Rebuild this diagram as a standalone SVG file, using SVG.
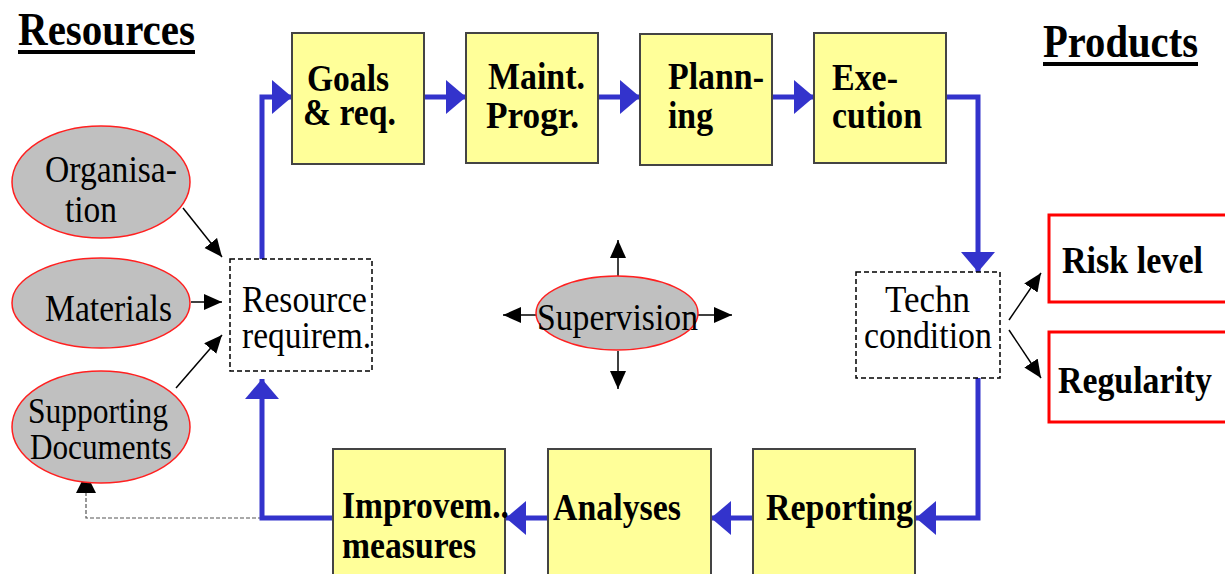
<svg xmlns="http://www.w3.org/2000/svg" width="1225" height="574" viewBox="0 0 1225 574">
<style>
  text{font-family:'Liberation Serif','Times New Roman','DejaVu Serif',serif;fill:#000}
  .title{font-weight:bold;font-size:46px}
  .bt{font-weight:bold;font-size:38px}
  .rt{font-size:38px}
  .st{font-size:35px}
  .box{fill:#ffff99;stroke:#444;stroke-width:2}
  .ell{fill:#c0c0c0;stroke:#ff2020;stroke-width:1.5}
  .dash{fill:#fff;stroke:#000;stroke-width:1.5;stroke-dasharray:5,3}
  .red{fill:#fff;stroke:#ff0000;stroke-width:3}
  .blue{fill:none;stroke:#3333cc;stroke-width:5;marker-end:url(#ab)}
  .blk{fill:none;stroke:#000;stroke-width:1.5;marker-end:url(#ak)}
  .gray{fill:none;stroke:#555;stroke-width:1.2;stroke-dasharray:4,2;marker-end:url(#ak2)}
</style>
<defs>
  <marker id="ab" markerUnits="userSpaceOnUse" markerWidth="22" markerHeight="36" refX="20" refY="17" orient="auto">
    <path d="M0,0 L20,17 L0,34 z" fill="#3333cc"/>
  </marker>
  <marker id="ak" markerUnits="userSpaceOnUse" markerWidth="20" markerHeight="18" refX="18" refY="8" orient="auto">
    <path d="M0,0 L18,8 L0,16 z" fill="#000"/>
  </marker>
  <marker id="ak2" markerUnits="userSpaceOnUse" markerWidth="22" markerHeight="22" refX="20" refY="10" orient="auto">
    <path d="M0,0 L20,10 L0,20 z" fill="#000"/>
  </marker>
</defs>
<rect width="1225" height="574" fill="#fff"/>

<g id="titles">
  <text class="title" x="18" y="45" textLength="177" lengthAdjust="spacingAndGlyphs">Resources</text>
  <rect x="18" y="50" width="177" height="4" fill="#000"/>
  <text class="title" x="1043" y="57" textLength="155" lengthAdjust="spacingAndGlyphs">Products</text>
  <rect x="1043" y="62" width="155" height="4" fill="#000"/>
</g>

<g id="connectors">
  <path class="blue" d="M262,259 V97 H292"/>
  <path class="blue" d="M424,97 H466"/>
  <path class="blue" d="M598,97 H640"/>
  <path class="blue" d="M772,97 H814"/>
  <path class="blue" d="M946,97 H978 V272"/>
  <path class="blue" d="M978,378 V518 H916"/>
  <path class="blue" d="M753,518 H711"/>
  <path class="blue" d="M548,518 H506"/>
  <path class="gray" d="M262,518 H86 V473"/>
  <path class="blue" d="M333,518 H262 V379"/>
  <path class="blk" d="M183,208 L222,257"/>
  <path class="blk" d="M191,302 L222,302"/>
  <path class="blk" d="M176,388 L222,335"/>
  <path class="blk" d="M1009,320 L1041,273"/>
  <path class="blk" d="M1009,330 L1041,378"/>
  <path class="blk" d="M618,277 V240"/>
  <path class="blk" d="M618,351 V389"/>
  <path class="blk" d="M536,315 H503"/>
  <path class="blk" d="M698,315 H732"/>
</g>

<g id="goals">
  <rect class="box" x="292" y="33" width="132" height="131"/>
  <text class="bt" x="307" y="91" textLength="82" lengthAdjust="spacingAndGlyphs">Goals</text>
  <text class="bt" x="303" y="125" textLength="93" lengthAdjust="spacingAndGlyphs">&amp; req.</text>
</g>
<g id="maint">
  <rect class="box" x="466" y="33" width="132" height="130"/>
  <text class="bt" x="488" y="89" textLength="97" lengthAdjust="spacingAndGlyphs">Maint.</text>
  <text class="bt" x="486" y="128" textLength="93" lengthAdjust="spacingAndGlyphs">Progr.</text>
</g>
<g id="planning">
  <rect class="box" x="640" y="34" width="132" height="131"/>
  <text class="bt" x="668" y="89" textLength="96" lengthAdjust="spacingAndGlyphs">Plann-</text>
  <text class="bt" x="668" y="128" textLength="45" lengthAdjust="spacingAndGlyphs">ing</text>
</g>
<g id="execution">
  <rect class="box" x="814" y="33" width="132" height="130"/>
  <text class="bt" x="832" y="90" textLength="66" lengthAdjust="spacingAndGlyphs">Exe-</text>
  <text class="bt" x="832" y="128" textLength="90" lengthAdjust="spacingAndGlyphs">cution</text>
</g>

<g id="techn">
  <rect class="dash" x="856" y="272" width="144" height="106"/>
  <text class="rt" x="885" y="312" textLength="85" lengthAdjust="spacingAndGlyphs">Techn</text>
  <text class="rt" x="864" y="348" textLength="128" lengthAdjust="spacingAndGlyphs">condition</text>
</g>

<g id="risk">
  <rect class="red" x="1049" y="215" width="190" height="87"/>
  <text class="bt" x="1062" y="273" textLength="141" lengthAdjust="spacingAndGlyphs">Risk level</text>
</g>
<g id="regularity">
  <rect class="red" x="1049" y="332" width="190" height="90"/>
  <text class="bt" x="1058" y="393" textLength="154" lengthAdjust="spacingAndGlyphs">Regularity</text>
</g>

<g id="reporting">
  <rect class="box" x="753" y="449" width="162" height="140"/>
  <text class="bt" x="766" y="520" textLength="147" lengthAdjust="spacingAndGlyphs">Reporting</text>
</g>
<g id="analyses">
  <rect class="box" x="548" y="449" width="163" height="140"/>
  <text class="bt" x="553" y="520" textLength="128" lengthAdjust="spacingAndGlyphs">Analyses</text>
</g>
<g id="improvem">
  <rect class="box" x="333" y="449" width="172" height="140"/>
  <text class="bt" x="342" y="518" textLength="167" lengthAdjust="spacingAndGlyphs">Improvem..</text>
  <text class="bt" x="342" y="558" textLength="134" lengthAdjust="spacingAndGlyphs">measures</text>
</g>

<g id="resource">
  <rect class="dash" x="230" y="259" width="142" height="112"/>
  <text class="rt" x="242" y="312" textLength="125" lengthAdjust="spacingAndGlyphs">Resource</text>
  <text class="rt" x="242" y="348" textLength="129" lengthAdjust="spacingAndGlyphs">requirem.</text>
</g>

<g id="organisation">
  <ellipse class="ell" cx="101" cy="182" rx="89" ry="56"/>
  <text class="rt" x="45" y="182" textLength="132" lengthAdjust="spacingAndGlyphs">Organisa-</text>
  <text class="rt" x="65" y="222" textLength="52" lengthAdjust="spacingAndGlyphs">tion</text>
</g>
<g id="materials">
  <ellipse class="ell" cx="101" cy="303" rx="89" ry="45"/>
  <text class="rt" x="45" y="321" textLength="127" lengthAdjust="spacingAndGlyphs">Materials</text>
</g>
<g id="supporting">
  <ellipse class="ell" cx="101" cy="427" rx="89" ry="56"/>
  <text class="st" x="28" y="423" textLength="140" lengthAdjust="spacingAndGlyphs">Supporting</text>
  <text class="st" x="30" y="459" textLength="142" lengthAdjust="spacingAndGlyphs">Documents</text>
</g>

<g id="supervision">
  <ellipse class="ell" cx="617" cy="313" rx="81" ry="37"/>
  <text class="rt" x="537" y="330" textLength="161" lengthAdjust="spacingAndGlyphs">Supervision</text>
</g>
</svg>
